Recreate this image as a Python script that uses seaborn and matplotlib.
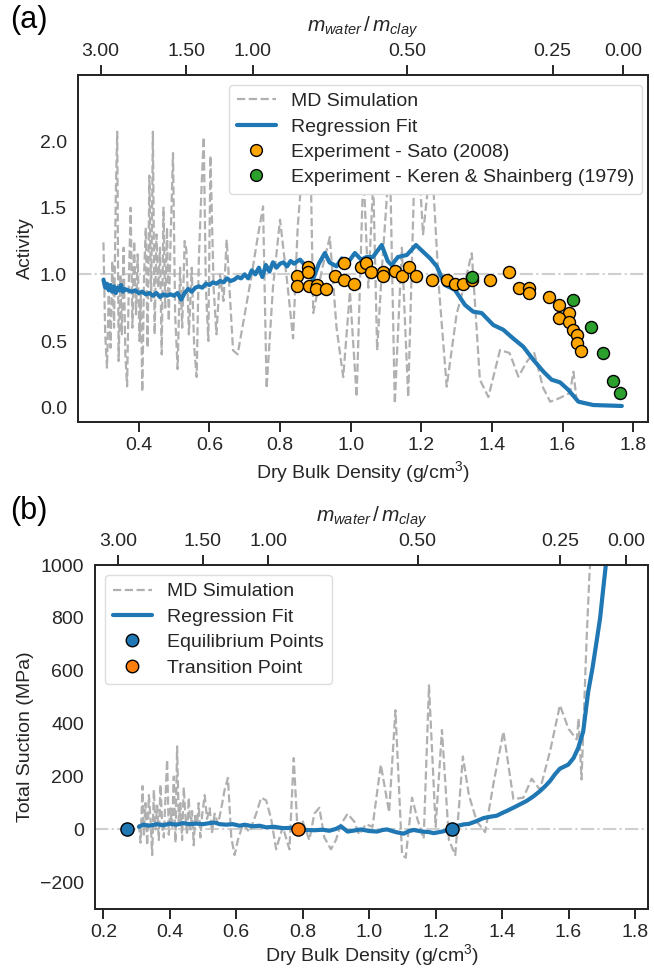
import numpy as np
import pandas as pd
import matplotlib
matplotlib.use('Agg')
import matplotlib.pyplot as plt
from matplotlib.lines import Line2D
import seaborn as sns

# ---------------- Panel (a) data ----------------
md_a_x = [0.300, 0.305, 0.310, 0.315, 0.320, 0.325, 0.330, 0.335, 0.339, 0.343, 0.348, 0.352,
          0.357, 0.362, 0.367, 0.372, 0.377, 0.382, 0.387, 0.392, 0.397, 0.402, 0.406, 0.410,
          0.415, 0.420, 0.425, 0.430, 0.435, 0.440, 0.445, 0.450, 0.455, 0.460, 0.465, 0.470,
          0.475, 0.480, 0.485, 0.490, 0.497, 0.503, 0.510, 0.517, 0.523, 0.530, 0.535, 0.542,
          0.550, 0.557, 0.564, 0.570, 0.577, 0.584, 0.590, 0.597, 0.603, 0.612, 0.620, 0.630,
          0.640, 0.649, 0.667, 0.680, 0.720, 0.735, 0.752, 0.762, 0.780, 0.800, 0.820, 0.837,
          0.850, 0.866, 0.885, 0.894, 0.920, 0.941, 0.960, 0.979, 0.998, 1.017, 1.036, 1.050,
          1.064, 1.075, 1.090, 1.111, 1.125, 1.145, 1.163, 1.185, 1.205, 1.229, 1.250, 1.272,
          1.300, 1.320, 1.343, 1.366, 1.390, 1.423, 1.450, 1.475, 1.500, 1.520, 1.545, 1.565,
          1.590, 1.621, 1.631, 1.640]
md_a_y = [1.24, 0.55, 0.30, 0.85, 0.45, 1.10, 0.60, 1.60, 2.07, 0.35, 1.00, 0.55,
          1.20, 0.40, 0.16, 0.95, 1.50, 0.60, 1.25, 0.70, 1.15, 0.50, 0.85, 0.12,
          1.00, 1.35, 0.45, 1.74, 0.80, 2.07, 0.55, 1.30, 0.90, 1.20, 0.40, 1.50,
          0.75, 1.35, 0.65, 1.25, 1.91, 0.70, 0.29, 1.05, 0.60, 1.25, 1.18, 0.55,
          1.05, 0.45, 0.23, 1.10, 1.60, 2.03, 0.90, 0.50, 1.89, 0.90, 0.55, 1.00,
          0.80, 1.26, 0.43, 0.40, 1.00, 1.25, 1.51, 0.145, 0.90, 1.41, 0.95, 0.52,
          1.35, 1.90, 2.10, 0.71, 1.05, 1.28, 0.60, 0.23, 0.87, 0.08, 1.80, 0.90,
          1.70, 0.43, 1.10, 1.90, 0.03, 1.20, 0.08, 2.20, 1.30, 1.90, 0.90, 0.158,
          0.70, 0.90, 1.158, 0.21, 0.08, 0.433, 0.41, 0.233, 0.35, 0.41, 0.15, 0.045,
          0.07, 0.11, 0.27, 0.05]

fit_a_x = [0.300, 0.305, 0.310, 0.315, 0.320, 0.325, 0.330, 0.335, 0.340, 0.345, 0.350, 0.355,
           0.360, 0.370, 0.380, 0.390, 0.400, 0.410, 0.420, 0.430, 0.440, 0.450, 0.460, 0.470,
           0.480, 0.490, 0.500, 0.510, 0.520, 0.530, 0.540, 0.550, 0.560, 0.570, 0.580, 0.590,
           0.600, 0.610, 0.620, 0.630, 0.640, 0.650, 0.660, 0.670, 0.680, 0.690, 0.700, 0.710,
           0.720, 0.730, 0.740, 0.750, 0.760, 0.770, 0.780, 0.790, 0.800, 0.810, 0.820, 0.830,
           0.840, 0.850, 0.857, 0.870, 0.880, 0.893, 0.910, 0.927, 0.940, 0.960, 0.975, 0.990,
           1.012, 1.030, 1.045, 1.063, 1.088, 1.105, 1.116, 1.134, 1.159, 1.185, 1.205, 1.225,
           1.244, 1.267, 1.295, 1.324, 1.347, 1.371, 1.404, 1.432, 1.460, 1.489, 1.517, 1.546,
           1.569, 1.593, 1.616, 1.645, 1.687, 1.768]
fit_a_y = [0.96, 0.90, 0.93, 0.88, 0.92, 0.87, 0.91, 0.86, 0.90, 0.88, 0.92, 0.87,
           0.89, 0.88, 0.87, 0.88, 0.86, 0.87, 0.85, 0.86, 0.84, 0.86, 0.83, 0.85,
           0.84, 0.85, 0.84, 0.86, 0.81, 0.86, 0.89, 0.87, 0.90, 0.91, 0.90, 0.93,
           0.92, 0.94, 0.93, 0.95, 0.94, 0.97, 0.95, 0.96, 0.98, 0.97, 1.00, 0.97,
           1.03, 1.00, 1.05, 0.98, 1.07, 1.02, 1.09, 1.05, 1.08, 1.09, 1.06, 1.10,
           1.08, 1.10, 1.11, 1.07, 1.05, 0.96, 1.08, 1.16, 1.09, 1.06, 1.12, 1.08,
           1.16, 1.11, 1.13, 1.13, 1.22, 1.10, 1.07, 1.13, 1.145, 1.22, 1.17, 1.12,
           1.06, 0.92, 0.885, 0.77, 0.72, 0.71, 0.62, 0.585, 0.52, 0.457, 0.36, 0.27,
           0.21, 0.19, 0.135, 0.045, 0.02, 0.013]

sato_x = [0.849, 0.849, 0.880, 0.880, 0.882, 0.905, 0.903, 0.929, 0.956, 0.981, 0.981, 1.010,
          1.028, 1.043, 1.059, 1.091, 1.091, 1.126, 1.146, 1.165, 1.185, 1.229, 1.272, 1.295,
          1.319, 1.343, 1.395, 1.448, 1.477, 1.506, 1.506, 1.563, 1.590, 1.617, 1.590, 1.617,
          1.629, 1.640, 1.640, 1.652]
sato_y = [0.99, 0.915, 1.057, 1.015, 0.91, 0.92, 0.89, 0.89, 0.99, 1.083, 0.958, 0.928,
          1.057, 1.083, 1.02, 1.02, 0.99, 1.028, 0.99, 1.053, 0.99, 0.958, 0.958, 0.928,
          0.928, 0.958, 0.958, 1.02, 0.895, 0.895, 0.862, 0.832, 0.77, 0.712, 0.675, 0.645,
          0.583, 0.545, 0.488, 0.425]

keren_x = [1.343, 1.629, 1.681, 1.716, 1.742, 1.763]
keren_y = [0.982, 0.808, 0.607, 0.408, 0.20, 0.108]

top_a_pos = [0.292, 0.535, 0.723, 1.161, 1.572, 1.772]
top_labels = ['3.00', '1.50', '1.00', '0.50', '0.25', '0.00']

# ---------------- Panel (b) data ----------------
md_b_x = [0.307, 0.312, 0.318, 0.322, 0.327, 0.332, 0.337, 0.342, 0.347, 0.352, 0.357, 0.362,
          0.367, 0.372, 0.377, 0.382, 0.387, 0.392, 0.397, 0.402, 0.407, 0.412, 0.417, 0.422,
          0.427, 0.432, 0.437, 0.442, 0.447, 0.452, 0.457, 0.462, 0.467, 0.472, 0.477, 0.482,
          0.487, 0.492, 0.497, 0.505, 0.512, 0.520, 0.527, 0.535, 0.545, 0.555, 0.565, 0.575,
          0.585, 0.595, 0.605, 0.620, 0.640, 0.660, 0.675, 0.690, 0.705, 0.720, 0.740, 0.760,
          0.773, 0.785, 0.800, 0.820, 0.835, 0.850, 0.865, 0.885, 0.900, 0.915, 0.935, 0.955,
          0.970, 0.990, 1.010, 1.035, 1.060, 1.079, 1.099, 1.110, 1.129, 1.145, 1.164, 1.180,
          1.200, 1.219, 1.240, 1.259, 1.282, 1.300, 1.324, 1.349, 1.375, 1.404, 1.434, 1.464,
          1.489, 1.514, 1.545, 1.574, 1.600, 1.625, 1.630, 1.639, 1.654, 1.662, 1.672]
md_b_y = [20, -50, 164, -20, 100, -60, 130, 40, -97, 150, 0, 90,
          -40, 170, 20, -30, 120, 264, -20, 80, 10, 200, -50, 314,
          30, 100, -40, 160, 50, -20, 120, 0, 70, -60, 60, 20,
          100, -30, 50, 130, 40, 80, -10, 60, 20, 80, 150, 195,
          -30, -97, -40, 20, -10, 60, 120, 110, 40, -75, 10, -75,
          270, -20, 30, -40, 60, 82, -30, -75, -40, 20, 59, 30,
          -20, 20, 10, 245, 65, 451, -95, -107, 120, 40, -35, 545,
          10, 376, -40, -97, 276, 130, 30, -10, 180, 370, 115, 120,
          192, 150, 300, 470, 380, 340, 420, 189, 710, 939, 1200]

fit_b_x = [0.307, 0.320, 0.340, 0.360, 0.380, 0.400, 0.420, 0.440, 0.460, 0.480, 0.500, 0.520,
           0.535, 0.550, 0.570, 0.590, 0.610, 0.625, 0.650, 0.670, 0.690, 0.715, 0.740, 0.765,
           0.788, 0.810, 0.835, 0.860, 0.880, 0.900, 0.915, 0.935, 0.955, 0.975, 1.000, 1.024,
           1.040, 1.054, 1.080, 1.104, 1.120, 1.134, 1.160, 1.180, 1.194, 1.220, 1.249, 1.270,
           1.284, 1.300, 1.320, 1.344, 1.364, 1.384, 1.400, 1.414, 1.440, 1.474, 1.494, 1.514,
           1.530, 1.544, 1.560, 1.574, 1.599, 1.615, 1.629, 1.644, 1.659, 1.672, 1.684, 1.695,
           1.703, 1.713, 1.730, 1.750, 1.769]
fit_b_y = [10, 18, 14, 20, 16, 22, 18, 24, 20, 22, 20, 24,
           26, 20, 18, 20, 14, 18, 12, 14, 8, 10, 5, 6,
           2, -2, -3, -1, -5, 2, 12, -8, -4, 0, -6, -8,
           -2, 0, -10, -16, -6, -2, -8, -10, -14, -8, 2, 15,
           19, 21, 30, 43, 48, 52, 62, 70, 86, 108, 125, 145,
           164, 183, 210, 230, 245, 270, 308, 370, 520, 610, 708, 800,
           895, 1010, 1300, 1700, 2200]

eq_x = [0.270, 1.248]
eq_y = [0, 0]
tr_x = [0.785]
tr_y = [0]

top_b_pos = [0.245, 0.499, 0.697, 1.146, 1.574, 1.773]

# ---------------- style ----------------
sns.set_theme(style='ticks')
plt.rcParams['font.family'] = ['Liberation Sans', 'DejaVu Sans']
plt.rcParams['mathtext.fontset'] = 'custom'
plt.rcParams['mathtext.it'] = 'Liberation Sans:italic'
plt.rcParams['mathtext.rm'] = 'Liberation Sans'
FS = 14
TXT = '#262626'

fig = plt.figure(figsize=(6.54, 9.73), dpi=100)
axA = fig.add_axes([0.1193, 0.5666, 0.8715, 0.3563])
axB = fig.add_axes([0.1453, 0.0660, 0.8455, 0.3533])

MD_COLOR = '#b0b0b0'
FIT_COLOR = '#1f77b4'
REF_COLOR = '#cfcfcf'

# ---- Panel (a)
axA.axhline(1.0, color=REF_COLOR, ls='-.', lw=1.5, zorder=0)
sns.lineplot(x=md_a_x, y=md_a_y, ax=axA, color=MD_COLOR, lw=1.6, linestyle='--',
             estimator=None, sort=False, zorder=1)
sns.lineplot(x=fit_a_x, y=fit_a_y, ax=axA, color=FIT_COLOR, lw=3, estimator=None,
             sort=False, zorder=2)
sns.scatterplot(x=sato_x, y=sato_y, ax=axA, color='orange', edgecolor='black',
                linewidth=1, s=75, zorder=3)
sns.scatterplot(x=keren_x, y=keren_y, ax=axA, color='#2ca02c', edgecolor='black',
                linewidth=1, s=75, zorder=3)
axA.set_xlim(0.228, 1.842)
axA.set_ylim(-0.105, 2.495)
axA.set_yticks([0.0, 0.5, 1.0, 1.5, 2.0])
axA.set_xticks([0.4, 0.6, 0.8, 1.0, 1.2, 1.4, 1.6, 1.8])
axA.set_xlabel('Dry Bulk Density (g/cm$^3$)', fontsize=FS, color=TXT, labelpad=4)
axA.set_ylabel('Activity', fontsize=FS, color=TXT)

hA = [Line2D([], [], color=MD_COLOR, lw=1.6, ls='--'),
      Line2D([], [], color=FIT_COLOR, lw=3),
      Line2D([], [], ls='', marker='o', markersize=8.5, markerfacecolor='orange', markeredgecolor='black'),
      Line2D([], [], ls='', marker='o', markersize=8.5, markerfacecolor='#2ca02c', markeredgecolor='black')]
lA = ['MD Simulation', 'Regression Fit', 'Experiment - Sato (2008)',
      'Experiment - Keren & Shainberg (1979)']
legA = axA.legend(hA, lA, loc='upper right', bbox_to_anchor=(0.99, 0.972), borderaxespad=0,
                  fontsize=FS, framealpha=1, edgecolor='#dddddd', labelspacing=0.4,
                  handlelength=2.0)
for t in legA.get_texts():
    t.set_color(TXT)

# ---- Panel (b)
axB.axhline(0.0, color=REF_COLOR, ls='-.', lw=1.5, zorder=0)
sns.lineplot(x=md_b_x, y=md_b_y, ax=axB, color=MD_COLOR, lw=1.6, linestyle='--',
             estimator=None, sort=False, zorder=1)
sns.lineplot(x=fit_b_x, y=fit_b_y, ax=axB, color=FIT_COLOR, lw=3, estimator=None,
             sort=False, zorder=2)
sns.scatterplot(x=eq_x, y=eq_y, ax=axB, color='#1f77b4', edgecolor='black',
                linewidth=1, s=90, zorder=4)
sns.scatterplot(x=tr_x, y=tr_y, ax=axB, color='#ff7f0e', edgecolor='black',
                linewidth=1, s=90, zorder=4)
axB.set_xlim(0.175, 1.839)
axB.set_ylim(-300, 1000)
axB.set_yticks([-200, 0, 200, 400, 600, 800, 1000])
axB.set_xticks([0.2, 0.4, 0.6, 0.8, 1.0, 1.2, 1.4, 1.6, 1.8])
axB.set_xlabel('Dry Bulk Density (g/cm$^3$)', fontsize=FS, color=TXT, labelpad=1)
axB.set_ylabel('Total Suction (MPa)', fontsize=FS, color=TXT)

hB = [Line2D([], [], color=MD_COLOR, lw=1.6, ls='--'),
      Line2D([], [], color=FIT_COLOR, lw=3),
      Line2D([], [], ls='', marker='o', markersize=9, markerfacecolor='#1f77b4', markeredgecolor='black'),
      Line2D([], [], ls='', marker='o', markersize=9, markerfacecolor='#ff7f0e', markeredgecolor='black')]
lB = ['MD Simulation', 'Regression Fit', 'Equilibrium Points', 'Transition Point']
legB = axB.legend(hB, lB, loc='upper left', bbox_to_anchor=(0.018, 0.971), borderaxespad=0,
                  fontsize=FS, framealpha=1, edgecolor='#dddddd', labelspacing=0.4,
                  handlelength=2.0)
for t in legB.get_texts():
    t.set_color(TXT)

# ---- common formatting + top axes
for ax, tpos in ((axA, top_a_pos), (axB, top_b_pos)):
    for s in ax.spines.values():
        s.set_linewidth(1.4)
        s.set_color('#262626')
    ax.tick_params(axis='x', length=7, width=1.4, labelsize=FS, colors=TXT, pad=4)
    ax.tick_params(axis='y', length=0, labelsize=FS, colors=TXT, pad=8)
    top = ax.twiny()
    top.set_xlim(ax.get_xlim())
    top.set_xticks(tpos)
    top.set_xticklabels(top_labels)
    top.tick_params(axis='x', length=7, width=1.4, labelsize=FS, colors=TXT, pad=4)
    for s in top.spines.values():
        s.set_linewidth(1.4)
        s.set_color('#262626')
    top.set_xlabel(r'$m_{water}\,/\,m_{clay}$', fontsize=FS + 1, color=TXT, labelpad=8)

fig.text(0.015, 0.995, '(a)', fontsize=22, va='top', ha='left', color='black')
fig.text(0.015, 0.49, '(b)', fontsize=22, va='top', ha='left', color='black')

fig.savefig('out.png', dpi=100)
